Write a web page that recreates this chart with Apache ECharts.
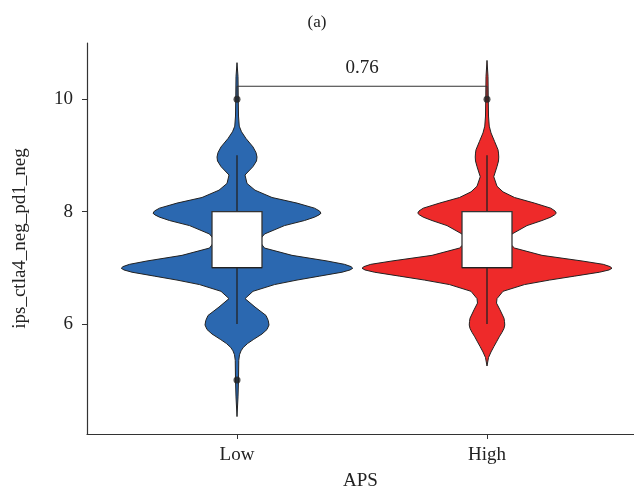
<!DOCTYPE html>
<html>
<head>
<meta charset="utf-8">
<script src="https://cdn.jsdelivr.net/npm/echarts@6/dist/echarts.min.js"></script>
<style>
  html, body { margin: 0; padding: 0; background: #fff; }
  #chart { width: 634px; height: 491px; }
</style>
</head>
<body>
<div id="chart"></div>
<script>
// Groups on the x axis
const groups = ['Low', 'High'];
const violinColors = ['#2b68b0', '#ee2a2a'];

// Kernel density outline per group: y value and half width (in x-axis units)
const lowY = [4.35, 4.7, 5.0, 5.35, 5.45, 5.52, 5.58, 5.65, 5.72, 5.82, 5.9, 5.98, 6.06, 6.15, 6.3, 6.45, 6.58, 6.7, 6.78, 6.85, 6.92, 6.96, 6.99, 7.02, 7.06, 7.12, 7.22, 7.35, 7.48, 7.6, 7.75, 7.84, 7.9, 7.94, 7.97, 8.01, 8.06, 8.15, 8.25, 8.38, 8.5, 8.65, 8.8, 8.9, 8.97, 9.05, 9.15, 9.3, 9.42, 9.52, 9.7, 10.0, 10.4, 10.65];
const lowHalf = [0, 0.004, 0.006, 0.007, 0.01, 0.016, 0.025, 0.042, 0.065, 0.10, 0.12, 0.128, 0.125, 0.116, 0.072, 0.032, 0.064, 0.15, 0.24, 0.33, 0.42, 0.452, 0.463, 0.456, 0.43, 0.36, 0.22, 0.11, 0.088, 0.11, 0.19, 0.27, 0.31, 0.328, 0.336, 0.33, 0.31, 0.24, 0.14, 0.072, 0.04, 0.032, 0.064, 0.078, 0.08, 0.076, 0.064, 0.036, 0.018, 0.009, 0.006, 0.005, 0.004, 0];

const highY = [5.25, 5.4, 5.5, 5.6, 5.68, 5.77, 5.85, 5.92, 5.98, 6.04, 6.1, 6.25, 6.37, 6.45, 6.58, 6.7, 6.78, 6.85, 6.92, 6.96, 6.99, 7.02, 7.06, 7.12, 7.22, 7.35, 7.48, 7.6, 7.75, 7.84, 7.9, 7.94, 7.97, 8.01, 8.06, 8.15, 8.25, 8.35, 8.45, 8.62, 8.8, 8.9, 8.97, 9.04, 9.1, 9.25, 9.4, 9.52, 9.7, 10.0, 10.4, 10.69];
const highHalf = [0, 0.006, 0.016, 0.028, 0.038, 0.049, 0.06, 0.068, 0.071, 0.07, 0.068, 0.052, 0.038, 0.04, 0.064, 0.15, 0.25, 0.35, 0.45, 0.488, 0.50, 0.492, 0.465, 0.38, 0.22, 0.11, 0.08, 0.10, 0.16, 0.22, 0.255, 0.27, 0.277, 0.272, 0.255, 0.19, 0.11, 0.064, 0.04, 0.027, 0.04, 0.046, 0.047, 0.046, 0.044, 0.03, 0.016, 0.009, 0.006, 0.005, 0.004, 0];

// Box statistics: [lower whisker, Q1, median, Q3, upper whisker]
const lowBox = [6, 7, 7, 8, 9];
const highBox = [6, 7, 7, 8, 9];
const lowOutliers = [10, 5];
const highOutliers = [10];

// Wilcoxon comparison
const pValue = '0.76';
const bracketY = 10.23;

const yTicks = [6, 8, 10];
const xTicks = [1, 2];

const profiles = [
  { y: lowY, half: lowHalf },
  { y: highY, half: highHalf }
];
const boxes = [lowBox, highBox];
const outliers = [lowOutliers, highOutliers];

const FONT = '"Liberation Serif", "DejaVu Serif", serif';
const INK = '#222';
const BOX_HALF = 0.1;

const chart = echarts.init(document.getElementById('chart'), null, { renderer: 'canvas', devicePixelRatio: 1 });

function violinItem(params, api) {
  const g = api.value(0);
  const idx = g - 1;
  const p = profiles[idx];
  const pts = [];
  for (let i = 0; i < p.y.length; i++) {
    pts.push(api.coord([g + p.half[i], p.y[i]]));
  }
  for (let i = p.y.length - 1; i >= 0; i--) {
    pts.push(api.coord([g - p.half[i], p.y[i]]));
  }
  return {
    type: 'polygon',
    shape: { points: pts },
    style: { fill: violinColors[idx], stroke: INK, lineWidth: 1, lineJoin: 'round' }
  };
}

function boxItem(params, api) {
  const g = api.value(0);
  const b = boxes[g - 1];
  const tl = api.coord([g - BOX_HALF, b[3]]);
  const br = api.coord([g + BOX_HALF, b[1]]);
  const top = api.coord([g, b[4]]);
  const q3 = api.coord([g, b[3]]);
  const q1 = api.coord([g, b[1]]);
  const bot = api.coord([g, b[0]]);
  const medL = api.coord([g - BOX_HALF, b[2]]);
  const medR = api.coord([g + BOX_HALF, b[2]]);
  const line = { stroke: INK, lineWidth: 1.3 };
  return {
    type: 'group',
    children: [
      { type: 'line', shape: { x1: top[0], y1: top[1], x2: q3[0], y2: q3[1] }, style: line },
      { type: 'line', shape: { x1: q1[0], y1: q1[1], x2: bot[0], y2: bot[1] }, style: line },
      { type: 'rect', shape: { x: tl[0], y: tl[1], width: br[0] - tl[0], height: br[1] - tl[1] },
        style: { fill: '#fff', stroke: '#333', lineWidth: 1.3 } },
      { type: 'line', shape: { x1: medL[0], y1: medL[1], x2: medR[0], y2: medR[1] }, style: line }
    ]
  };
}

function bracketItem(params, api) {
  const tip = 0.2;
  const a0 = api.coord([1, bracketY - tip]);
  const a1 = api.coord([1, bracketY]);
  const b1 = api.coord([2, bracketY]);
  const b0 = api.coord([2, bracketY - tip]);
  const t = api.coord([1.5, bracketY + 0.32]);
  return {
    type: 'group',
    children: [
      { type: 'polyline', shape: { points: [a0, a1, b1, b0] }, style: { stroke: '#333', lineWidth: 1, fill: null } },
      { type: 'text', x: t[0], y: t[1],
        style: { text: pValue, font: '19px ' + FONT, fill: INK, align: 'center', verticalAlign: 'middle' } }
    ]
  };
}

const outlierData = [];
outliers.forEach((arr, i) => arr.forEach(v => outlierData.push([i + 1, v])));

const axisStyle = { lineStyle: { color: '#333', width: 1.2 } };

chart.setOption({
  animation: false,
  backgroundColor: '#fff',
  title: {
    text: '(a)',
    left: 'center',
    top: 9,
    textStyle: { fontFamily: FONT, fontSize: 17, fontWeight: 'normal', color: INK }
  },
  grid: { left: 87, right: 0, top: 43, bottom: 57, outerBoundsMode: 'none' },
  xAxis: {
    type: 'value',
    min: 0.4,
    max: 2.588,
    name: 'APS',
    nameLocation: 'middle',
    nameGap: 38,
    nameTextStyle: { fontFamily: FONT, fontSize: 19, color: INK },
    axisLine: axisStyle,
    axisTick: { show: true, customValues: xTicks, length: 5, lineStyle: { color: '#333' } },
    axisLabel: {
      customValues: xTicks,
      formatter: v => groups[Math.round(v) - 1] || '',
      margin: 12,
      fontFamily: FONT, fontSize: 19, color: INK
    },
    splitLine: { show: false }
  },
  yAxis: {
    type: 'value',
    min: 4.04,
    max: 11.0,
    name: 'ips_ctla4_neg_pd1_neg',
    nameLocation: 'middle',
    nameGap: 57,
    nameTextStyle: { fontFamily: FONT, fontSize: 19, color: INK },
    axisLine: { show: true, lineStyle: { color: '#333', width: 1.2 } },
    axisTick: { show: true, customValues: yTicks, length: 5, lineStyle: { color: '#333' } },
    axisLabel: { customValues: yTicks, margin: 14, fontFamily: FONT, fontSize: 19, color: INK },
    splitLine: { show: false }
  },
  series: [
    { type: 'custom', name: 'violin', renderItem: violinItem, data: xTicks.map(g => [g]), z: 2 },
    { type: 'custom', name: 'box', renderItem: boxItem, data: xTicks.map(g => [g]), z: 3 },
    { type: 'scatter', name: 'outliers', data: outlierData, symbolSize: 7,
      itemStyle: { color: INK }, z: 4 },
    { type: 'custom', name: 'bracket', renderItem: bracketItem, data: [[1.5]], z: 5 }
  ]
});
</script>
</body>
</html>
